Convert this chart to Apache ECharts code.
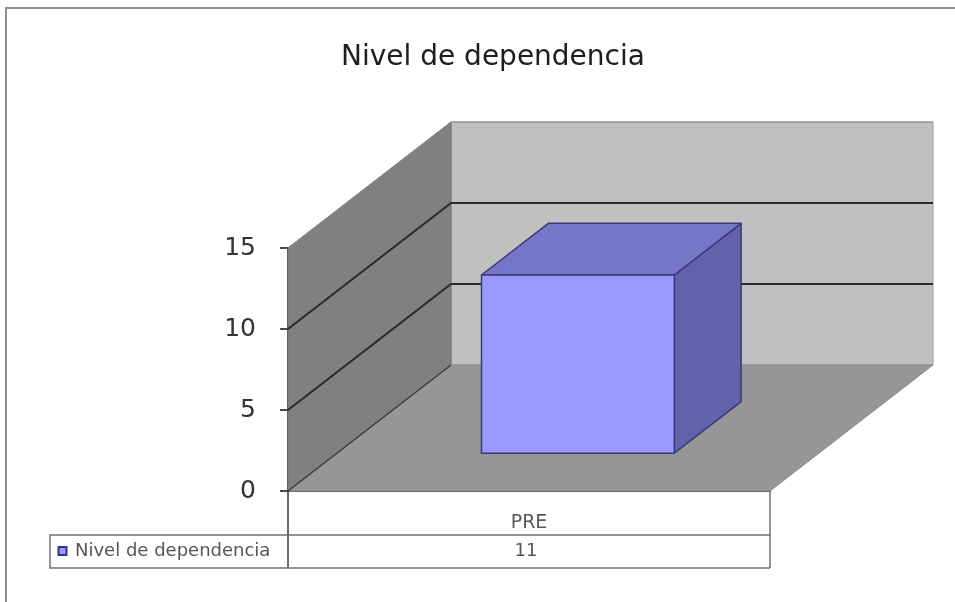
<!DOCTYPE html>
<html>
<head>
<meta charset="utf-8">
<script src="https://cdn.jsdelivr.net/npm/echarts@6/dist/echarts.min.js"></script>
<style>
  html, body { margin: 0; padding: 0; background: #fff; }
  #chart { width: 955px; height: 602px; }
</style>
</head>
<body>
<div id="chart"></div>
<script>
// ---- data ----
const chartTitle = 'Nivel de dependencia';
const seriesName = 'Nivel de dependencia';
const categories = ['PRE'];
const values = [11];
const yTicks = [0, 5, 10, 15];

// ---- look ----
const FONT = '"DejaVu Sans", "Liberation Sans", Arial, sans-serif';
const DEPTH = [163, -126];        // pixel offset from the front plane to the back wall
const BAR_DEPTH = [0.30, 0.71];   // slice of the depth taken by the box
const BAR_WIDTH = 0.4;            // share of the category band taken by the box
const ROW1 = 44, ROW2 = 77;       // data-table row lines, measured down from the floor edge
const TABLE_LEFT = 50;
const TABLE_LINE = '#707070';

const chart = echarts.init(document.getElementById('chart'), null, { renderer: 'canvas' });

function shift(p, f) {
  return [p[0] + DEPTH[0] * f, p[1] + DEPTH[1] * f];
}

// floor, side wall and back wall of the 3-D plot area
function renderWalls(params, api) {
  const cs = params.coordSys;
  const x0 = cs.x, x1 = cs.x + cs.width;
  const yTop = api.coord([0, yTicks[yTicks.length - 1]])[1];
  const yBot = api.coord([0, yTicks[0]])[1];
  const back = [shift([x0, yTop], 1), shift([x1, yTop], 1), shift([x1, yBot], 1), shift([x0, yBot], 1)];
  const side = [[x0, yTop], [x0, yBot], shift([x0, yBot], 1), shift([x0, yTop], 1)];
  const floor = [[x0, yBot], [x1, yBot], shift([x1, yBot], 1), shift([x0, yBot], 1)];
  return {
    type: 'group',
    children: [
      { type: 'polygon', shape: { points: back }, style: { fill: '#c0c0c0', stroke: '#9c9c9c', lineWidth: 1 } },
      { type: 'polygon', shape: { points: side }, style: { fill: '#808080', stroke: '#737373', lineWidth: 1 } },
      { type: 'polygon', shape: { points: floor }, style: { fill: '#969696', stroke: '#8a8a8a', lineWidth: 1 } }
    ]
  };
}

// gridlines running along the side wall and across the back wall
function renderGrid(params, api) {
  const cs = params.coordSys;
  const x0 = cs.x, x1 = cs.x + cs.width;
  const v = api.value(1);
  const y = api.coord([0, v])[1];
  const isMin = v === yTicks[0];
  const isMax = v === yTicks[yTicks.length - 1];
  if (isMin) {
    return { type: 'line', shape: { x1: x0, y1: y, x2: x0 + DEPTH[0], y2: y + DEPTH[1] },
             style: { stroke: '#3c3c3c', lineWidth: 1.5 } };
  }
  const pts = [[x0, y], shift([x0, y], 1), shift([x1, y], 1)];
  return { type: 'polyline', shape: { points: pts },
           style: { stroke: isMax ? '#8c8c8c' : '#2a2a2a', lineWidth: isMax ? 1 : 2, fill: null } };
}

// the 3-D box for each category
function renderBox(params, api) {
  const i = api.value(0), v = api.value(1);
  const base = api.coord([i, 0]);
  const top = api.coord([i, v]);
  const bw = api.size([1, 0])[0] * BAR_WIDTH;
  const l = base[0] - bw / 2, r = base[0] + bw / 2;
  const fl = [l, base[1]], fr = [r, base[1]], tl = [l, top[1]], tr = [r, top[1]];
  const a = BAR_DEPTH[0], b = BAR_DEPTH[1];
  const edge = { stroke: '#3a3a78', lineWidth: 1.5, lineJoin: 'round' };
  return {
    type: 'group',
    children: [
      { type: 'polygon', shape: { points: [shift(tr, a), shift(tr, b), shift(fr, b), shift(fr, a)] },
        style: Object.assign({ fill: '#6262aa' }, edge) },
      { type: 'polygon', shape: { points: [shift(tl, a), shift(tr, a), shift(tr, b), shift(tl, b)] },
        style: Object.assign({ fill: '#7676c8' }, edge) },
      { type: 'polygon', shape: { points: [shift(tl, a), shift(tr, a), shift(fr, a), shift(fl, a)] },
        style: Object.assign({ fill: '#9999ff' }, edge) }
    ]
  };
}

// data table cell under each category: borders and the value
function renderTableCell(params, api) {
  const i = api.value(0), v = api.value(1);
  const base = api.coord([i, 0]);
  const bw = api.size([1, 0])[0];
  const l = base[0] - bw / 2, r = base[0] + bw / 2;
  const y0 = base[1];
  const ls = { stroke: TABLE_LINE, lineWidth: 1.5 };
  return {
    type: 'group',
    children: [
      { type: 'line', shape: { x1: l, y1: y0, x2: l, y2: y0 + ROW2 }, style: { stroke: '#333', lineWidth: 1.5 } },
      { type: 'line', shape: { x1: r, y1: y0, x2: r, y2: y0 + ROW2 }, style: ls },
      { type: 'line', shape: { x1: l, y1: y0 + ROW1, x2: r, y2: y0 + ROW1 }, style: ls },
      { type: 'line', shape: { x1: l, y1: y0 + ROW2, x2: r, y2: y0 + ROW2 }, style: ls },
      { type: 'text',
        style: { text: String(v), x: base[0] - 3, y: y0 + (ROW1 + ROW2) / 2,
                 font: '18px ' + FONT, fill: '#555',
                 align: 'center', verticalAlign: 'middle',
                 textAlign: 'center', textVerticalAlign: 'middle' } }
    ]
  };
}

const gridTop = 248, gridBottom = 111, gridLeft = 288, gridRight = 185;
const floorY = 602 - gridBottom;

const option = {
  animation: false,
  backgroundColor: '#fff',
  title: {
    text: chartTitle,
    left: 336,
    top: 39,
    textStyle: { fontFamily: FONT, fontSize: 28, fontWeight: 'normal', color: '#1e1e1e' }
  },
  grid: { left: gridLeft, right: gridRight, top: gridTop, bottom: gridBottom, containLabel: false },
  xAxis: {
    type: 'category',
    data: categories,
    axisLine: { show: true, lineStyle: { color: '#111', width: 1.5 } },
    axisTick: { show: false },
    axisLabel: { fontFamily: FONT, fontSize: 19, color: '#5a5a5a', margin: 23 },
    splitLine: { show: false }
  },
  yAxis: {
    type: 'value',
    min: yTicks[0],
    max: yTicks[yTicks.length - 1],
    interval: yTicks[1] - yTicks[0],
    axisLine: { show: true, lineStyle: { color: '#111', width: 1.5 } },
    axisTick: { show: true, length: 8, lineStyle: { color: '#111', width: 1.5 } },
    axisLabel: { fontFamily: FONT, fontSize: 25, color: '#333', margin: 32 },
    splitLine: { show: false }
  },
  graphic: [
    // outer chart frame
    { type: 'rect', shape: { x: 6, y: 8, width: 980, height: 620 },
      style: { fill: null, stroke: '#8f8f8f', lineWidth: 2 }, z: 100 },
    // row header of the data table: legend key and series name
    { type: 'rect', shape: { x: TABLE_LEFT, y: floorY + ROW1, width: gridLeft - TABLE_LEFT, height: ROW2 - ROW1 },
      style: { fill: null, stroke: TABLE_LINE, lineWidth: 1.5 }, z: 5 },
    { type: 'rect', shape: { x: 58.5, y: floorY + 56, width: 8, height: 8 },
      style: { fill: '#9999ff', stroke: '#333388', lineWidth: 2 }, z: 6 },
    { type: 'text', x: 75, y: floorY + (ROW1 + ROW2) / 2,
      style: { text: seriesName, font: '18px ' + FONT, fill: '#555',
               textAlign: 'left', textVerticalAlign: 'middle', align: 'left', verticalAlign: 'middle' }, z: 6 }
  ],
  series: [
    { type: 'custom', name: 'walls', renderItem: renderWalls, data: [[0, 0]], z: 1, silent: true },
    { type: 'custom', name: 'gridlines', renderItem: renderGrid, data: yTicks.map(t => [0, t]), z: 2, silent: true },
    { type: 'custom', name: seriesName, renderItem: renderBox, data: values.map((v, i) => [i, v]), z: 3 },
    { type: 'custom', name: 'table', renderItem: renderTableCell, data: values.map((v, i) => [i, v]), z: 4, silent: true }
  ]
};

chart.setOption(option);
</script>
</body>
</html>
